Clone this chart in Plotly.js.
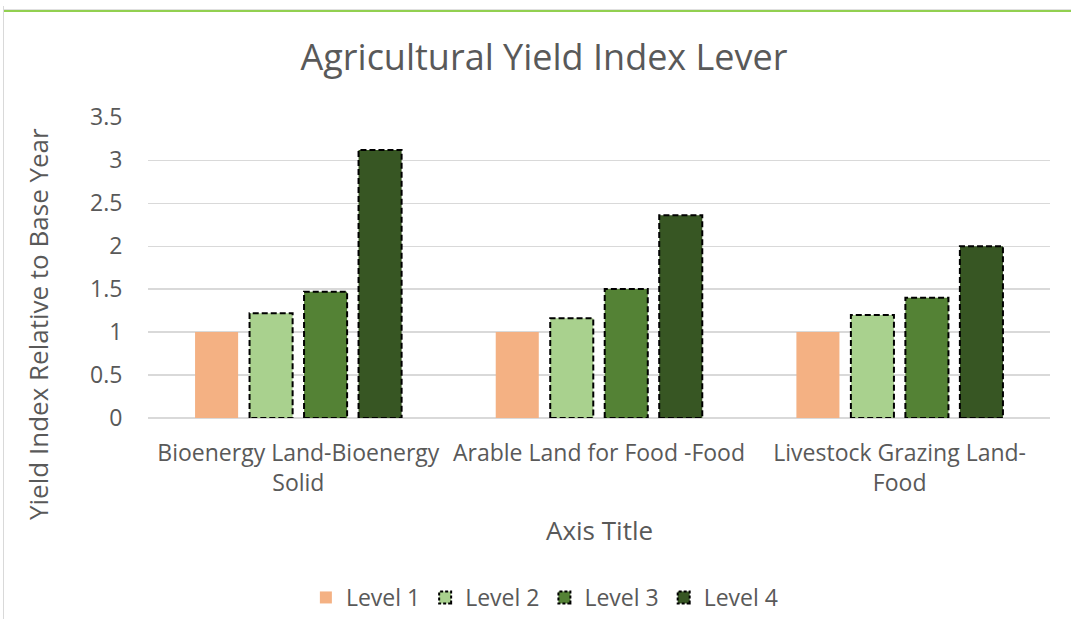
<!DOCTYPE html>
<html>
<head>
<meta charset="utf-8">
<script src="https://cdn.plot.ly/plotly-3.0.1.min.js"></script>
<style>
  html, body { margin: 0; padding: 0; background: #fff; }
  #frame { position: absolute; left: 3px; top: 6px; width: 1068px; height: 613px;
           border-left: 1px solid #d9d9d9; }
  #topline { position: absolute; left: 4px; top: 9px; width: 1067px; height: 0;
             border-top: 1px solid #e0e0e0; }
  #greenline { position: absolute; left: 4px; top: 10px; width: 1067px; height: 0;
               border-top: 2px solid #92d050; }
  #chart { position: absolute; left: 0; top: 0; width: 1071px; height: 619px; }
  .barlayer .trace:not(:first-child) path { stroke-dasharray: 6px 3px; }
  .legend .traces:not(:first-child) .legendpoints path { stroke-dasharray: 3px 2px; }
</style>
</head>
<body>
<div id="chart"></div>
<div id="frame"></div>
<div id="topline"></div>
<div id="greenline"></div>
<script>
const categories = ["Bioenergy Land-Bioenergy<br>Solid", "Arable Land for Food -Food", "Livestock Grazing Land-<br>Food"];
const seriesNames = ["Level 1", "Level 2", "Level 3", "Level 4"];
const level1 = [1.0, 1.0, 1.0];
const level2 = [1.22, 1.16, 1.2];
const level3 = [1.47, 1.5, 1.4];
const level4 = [3.12, 2.36, 2.0];
const seriesValues = [level1, level2, level3, level4];
const seriesColors = ["#F4B183", "#A9D18E", "#548235", "#375623"];
const yTickVals = [0, 0.5, 1, 1.5, 2, 2.5, 3, 3.5];

const FONT = "Open Sans, sans-serif";
const TXT = "#595959";

const traces = seriesValues.map((vals, i) => ({
  type: "bar",
  name: seriesNames[i],
  x: categories,
  y: vals,
  marker: {
    color: seriesColors[i],
    line: { color: i === 0 ? "rgba(0,0,0,0)" : "#000000", width: i === 0 ? 0 : 2 }
  },
  hoverinfo: "skip"
}));

const layout = {
  width: 1071,
  height: 619,
  margin: { l: 148, r: 21, t: 117, b: 201 },
  paper_bgcolor: "rgba(0,0,0,0)",
  plot_bgcolor: "rgba(0,0,0,0)",
  barmode: "group",
  bargap: 0.275,
  bargroupgap: 0.21,
  showlegend: true,
  font: { family: FONT, color: TXT },
  title: {
    text: "Agricultural Yield Index Lever",
    font: { family: FONT, size: 36, color: TXT },
    x: 544 / 1071, xanchor: "center", xref: "container",
    y: 1 - 57 / 619, yref: "container", yanchor: "middle"
  },
  xaxis: {
    type: "category",
    automargin: false,
    showgrid: false,
    showline: false,
    zeroline: false,
    ticks: "outside",
    ticklen: 14,
    tickcolor: "rgba(0,0,0,0)",
    tickfont: { family: FONT, size: 23, color: TXT },
    tickangle: 0
  },
  yaxis: {
    automargin: false,
    range: [0, 3.503],
    tickvals: yTickVals,
    showgrid: true,
    gridcolor: "#D9D9D9",
    gridwidth: 1.3,
    zeroline: true,
    zerolinecolor: "#D9D9D9",
    zerolinewidth: 1.3,
    showline: false,
    ticks: "outside",
    ticklen: 20,
    tickcolor: "rgba(0,0,0,0)",
    tickfont: { family: FONT, size: 23, color: TXT }
  },
  legend: {
    orientation: "h",
    x: 0.44, xanchor: "center", xref: "paper",
    y: 0, yanchor: "bottom", yref: "container",
    font: { family: FONT, size: 23, color: TXT },
    itemwidth: 30,
    traceorder: "normal"
  },
  annotations: [
    {
      text: "Yield Index Relative to Base Year",
      textangle: -90,
      xref: "paper", yref: "paper",
      x: (38 - 148) / 902, y: (418 - 324) / 301,
      xanchor: "center", yanchor: "middle",
      showarrow: false,
      font: { family: FONT, size: 26, color: TXT }
    },
    {
      text: "Axis Title",
      xref: "paper", yref: "paper",
      x: 0.5, y: (418 - 530) / 301,
      xanchor: "center", yanchor: "middle",
      showarrow: false,
      font: { family: FONT, size: 26, color: TXT }
    }
  ]
};

Plotly.newPlot("chart", traces, layout, { staticPlot: true, displayModeBar: false });
</script>
</body>
</html>
